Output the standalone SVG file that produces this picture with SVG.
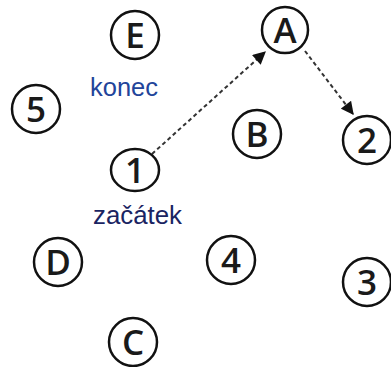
<svg xmlns="http://www.w3.org/2000/svg" width="391" height="367" viewBox="0 0 391 367">
<style>
.n ellipse{fill:#fff;stroke:#111;stroke-width:2.5}
.n text{font-family:"Open Sans","Noto Sans",sans-serif;font-weight:600;font-size:35px;fill:#1a1a1a;text-anchor:middle}
.lbl{font-family:"Liberation Sans",Arial,sans-serif;font-size:26px}
.c{fill:none;stroke:#333;stroke-width:2;stroke-dasharray:4 3}
</style>
<defs>
<marker id="ah" viewBox="0 0 10 10" refX="9" refY="5" markerWidth="7" markerHeight="6.5" orient="auto" markerUnits="strokeWidth">
<path d="M0,0 L10,5 L0,10 z" fill="#111"/>
</marker>
</defs>
<g id="connectors">
<line class="c" x1="152" y1="154" x2="265" y2="52" marker-end="url(#ah)"/>
<line class="c" x1="305" y1="51" x2="353" y2="114" marker-end="url(#ah)"/>
</g>
<g id="node-E" class="n"><ellipse cx="135" cy="35" rx="24" ry="24"/><text x="135" y="47.5">E</text></g>
<g id="node-A" class="n"><ellipse cx="285" cy="30" rx="23" ry="23"/><text x="285" y="42.5">A</text></g>
<g id="node-5" class="n"><ellipse cx="36" cy="109" rx="24" ry="24"/><text x="36" y="121.5">5</text></g>
<g id="node-B" class="n"><ellipse cx="257" cy="134" rx="24" ry="24"/><text x="257" y="146.5">B</text></g>
<g id="node-2" class="n"><ellipse cx="367" cy="140" rx="24" ry="24"/><text x="367" y="152.5">2</text></g>
<g id="node-1" class="n"><ellipse cx="135" cy="170" rx="24" ry="21"/><text x="135" y="182.5">1</text></g>
<g id="node-D" class="n"><ellipse cx="58" cy="262" rx="24" ry="24"/><text x="58" y="274.5">D</text></g>
<g id="node-4" class="n"><ellipse cx="231" cy="260" rx="24" ry="24"/><text x="231" y="272.5">4</text></g>
<g id="node-3" class="n"><ellipse cx="367" cy="282" rx="24" ry="24"/><text x="367" y="294.5">3</text></g>
<g id="node-C" class="n"><ellipse cx="133" cy="342" rx="24" ry="24"/><text x="133" y="354.5">C</text></g>
<g id="labels">
<text class="lbl" x="90" y="96" fill="#22449a" textLength="68" lengthAdjust="spacingAndGlyphs">konec</text>
<text class="lbl" x="93" y="224" fill="#1a2462" textLength="89" lengthAdjust="spacingAndGlyphs">začátek</text>
</g>
</svg>
